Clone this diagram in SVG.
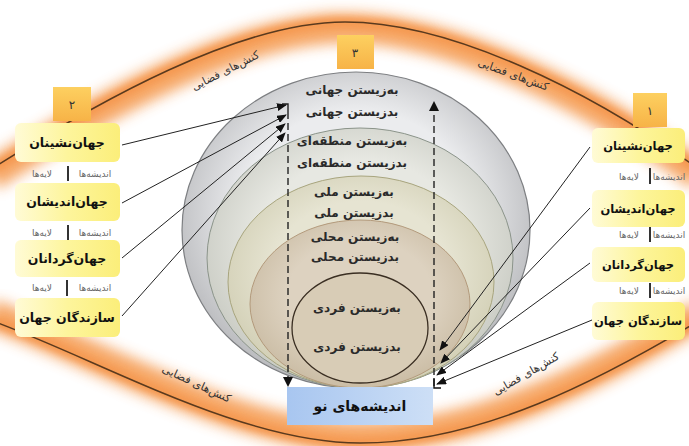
<svg xmlns="http://www.w3.org/2000/svg" width="689" height="446" viewBox="0 0 689 446">
<defs>
<style>
.arcline{fill:none;stroke:#5a3a1e;stroke-width:1.5}
.glow{fill:none;stroke:#f59d55;stroke-width:30;opacity:0.9}
.glow2{fill:none;stroke:#f48c3c;stroke-width:10;opacity:0.6}
.box{fill:url(#yel);}
.bl{font-family:"DejaVu Sans",sans-serif;font-weight:bold;font-size:12.5px;fill:#111;text-anchor:middle}
.br{font-family:"DejaVu Sans",sans-serif;font-weight:bold;font-size:11.5px;fill:#111;text-anchor:middle}
.cl{font-family:"DejaVu Sans",sans-serif;font-weight:bold;font-size:12px;fill:#2a2a2a;text-anchor:middle}
.sub{font-family:"DejaVu Sans",sans-serif;font-size:9px;fill:#666;text-anchor:middle}
.kf{font-family:"DejaVu Sans",sans-serif;font-size:11px;fill:#333;text-anchor:middle}
.num{font-family:"DejaVu Sans",sans-serif;font-size:12px;fill:#333;text-anchor:middle}
.bar{stroke:#333;stroke-width:2}
.conn{fill:none;stroke:#222;stroke-width:1;marker-end:url(#ah)}
.dash{fill:none;stroke:#222;stroke-width:1.4;stroke-dasharray:7 4}
</style>
<filter id="blur" x="-20%" y="-20%" width="140%" height="140%"><feGaussianBlur stdDeviation="7"/></filter>
<filter id="blur2" x="-20%" y="-20%" width="140%" height="140%"><feGaussianBlur stdDeviation="3"/></filter>
<marker id="ah" viewBox="0 0 10 8" refX="9" refY="4" markerWidth="10" markerHeight="8" markerUnits="userSpaceOnUse" orient="auto"><path d="M0,0 L10,4 L0,8 Z" fill="#111"/></marker>
<linearGradient id="yel" x1="0" y1="0" x2="1" y2="0"><stop offset="0" stop-color="#fffbd6"/><stop offset="0.5" stop-color="#fdf59c"/><stop offset="1" stop-color="#fbee7a"/></linearGradient>
<linearGradient id="org" x1="0" y1="0" x2="0" y2="1"><stop offset="0" stop-color="#fdd060"/><stop offset="1" stop-color="#f7b347"/></linearGradient>
<linearGradient id="blue" x1="0" y1="0" x2="1" y2="0"><stop offset="0" stop-color="#a8c6f0"/><stop offset="1" stop-color="#cddff6"/></linearGradient>
<radialGradient id="g1" cx="0.5" cy="0.45" r="0.55"><stop offset="0.6" stop-color="#ebecee"/><stop offset="1" stop-color="#b9babd"/></radialGradient>
<radialGradient id="g2" cx="0.5" cy="0.45" r="0.55"><stop offset="0.6" stop-color="#e7e8e2"/><stop offset="1" stop-color="#c9cbc3"/></radialGradient>
<radialGradient id="g3" cx="0.5" cy="0.45" r="0.55"><stop offset="0.6" stop-color="#e6e4d2"/><stop offset="1" stop-color="#d2cfb5"/></radialGradient>
<radialGradient id="g4" cx="0.5" cy="0.45" r="0.55"><stop offset="0.6" stop-color="#ddd2c0"/><stop offset="1" stop-color="#cbbda5"/></radialGradient>
</defs>
<rect width="689" height="446" fill="#fff"/>
<g id="background">
<path class="glow" filter="url(#blur)" d="M-10,176 C100,106 240,28 345,28 C450,28 590,96 700,176"/>
<path class="glow" filter="url(#blur)" d="M-10,314 C100,354 240,437 360,437 C480,437 600,374 700,314"/>
<path class="glow2" filter="url(#blur2)" d="M-10,170 C100,100 240,22 345,22 C450,22 590,90 700,170"/>
<path class="glow2" filter="url(#blur2)" d="M-10,320 C100,360 240,443 360,443 C480,443 600,380 700,320"/>
<path class="arcline" d="M-10,170 C100,100 240,22 345,22 C450,22 590,90 700,170"/>
<path class="arcline" d="M-10,320 C100,360 240,443 360,443 C480,443 600,380 700,320"/>
<text class="kf" transform="translate(227,74) rotate(-27)">کنش‌های فضایی</text>
<text class="kf" transform="translate(512,78) rotate(20)">کنش‌های فضایی</text>
<text class="kf" transform="translate(195,387) rotate(25)">کنش‌های فضایی</text>
<text class="kf" transform="translate(528,377) rotate(-30)">کنش‌های فضایی</text>
</g>
<g id="circles">
<ellipse cx="356" cy="230" rx="174" ry="158" fill="url(#g1)" stroke="#7d7f82" stroke-width="1.2"/>
<ellipse cx="360" cy="258" rx="153" ry="130" fill="url(#g2)" stroke="#8b948a" stroke-width="1"/>
<ellipse cx="361" cy="282" rx="133" ry="106" fill="url(#g3)" stroke="#a8a57e" stroke-width="1"/>
<ellipse cx="360" cy="304" rx="110" ry="84" fill="url(#g4)" stroke="#b39a7c" stroke-width="1"/>
<ellipse cx="360" cy="328" rx="68" ry="55" fill="#d8ccb6" stroke="#3a2e22" stroke-width="1.3"/>
<text class="cl" x="352" y="94">به‌زیستن جهانی</text>
<text class="cl" x="352" y="116">بدزیستن جهانی</text>
<text class="cl" x="352" y="145">به‌زیستن منطقه‌ای</text>
<text class="cl" x="352" y="167">بدزیستن منطقه‌ای</text>
<text class="cl" x="354" y="196">به‌زیستن ملی</text>
<text class="cl" x="354" y="217">بدزیستن ملی</text>
<text class="cl" x="355" y="241">به‌زیستن محلی</text>
<text class="cl" x="355" y="261">بدزیستن محلی</text>
<text class="cl" x="357" y="312">به‌زیستن فردی</text>
<text class="cl" x="357" y="351">بدزیستن فردی</text>
</g>
<g id="n3"><rect x="337" y="35" width="37" height="34" fill="url(#org)"/><text class="num" x="355" y="57">۳</text></g>
<g id="n2"><rect x="53" y="87" width="38" height="34" fill="url(#org)"/><text class="num" x="72" y="109">۲</text></g>
<g id="n1"><rect x="633" y="93" width="34" height="34" fill="url(#org)"/><text class="num" x="650" y="115">۱</text></g>
<g id="left">
<g id="l1"><rect class="box" x="15" y="123" width="105" height="39" rx="6"/><text class="bl" x="67" y="147">جهان‌نشینان</text></g>
<g id="l2"><rect class="box" x="15" y="183" width="105" height="38" rx="6"/><text class="bl" x="67" y="206">جهان‌اندیشان</text></g>
<g id="l3"><rect class="box" x="15" y="240" width="105" height="37" rx="6"/><text class="bl" x="67" y="263">جهان‌گردانان</text></g>
<g id="l4"><rect class="box" x="15" y="298" width="105" height="39" rx="6"/><text class="bl" x="67" y="322">سازندگان جهان</text></g>
<text class="sub" x="42" y="177">لایه‌ها</text><line class="bar" x1="68" y1="166" x2="68" y2="181"/><text class="sub" x="95" y="177">اندیشه‌ها</text>
<text class="sub" x="42" y="236">لایه‌ها</text><line class="bar" x1="68" y1="225" x2="68" y2="240"/><text class="sub" x="95" y="236">اندیشه‌ها</text>
<text class="sub" x="42" y="291">لایه‌ها</text><line class="bar" x1="67" y1="280" x2="67" y2="296"/><text class="sub" x="95" y="291">اندیشه‌ها</text>
</g>
<g id="right">
<g id="r1"><rect class="box" x="592" y="128" width="93" height="35" rx="6"/><text class="br" x="638" y="150">جهان‌نشینان</text></g>
<g id="r2"><rect class="box" x="592" y="190" width="93" height="37" rx="6"/><text class="br" x="638" y="213">جهان‌اندیشان</text></g>
<g id="r3"><rect class="box" x="592" y="247" width="93" height="35" rx="6"/><text class="br" x="638" y="269">جهان‌گردانان</text></g>
<g id="r4"><rect class="box" x="592" y="302" width="93" height="38" rx="6"/><text class="br" x="638" y="325">سازندگان جهان</text></g>
<text class="sub" x="629" y="180">لایه‌ها</text><line class="bar" x1="650" y1="168" x2="650" y2="184"/><text class="sub" x="669" y="180">اندیشه‌ها</text>
<text class="sub" x="629" y="238">لایه‌ها</text><line class="bar" x1="650" y1="227" x2="650" y2="242"/><text class="sub" x="669" y="238">اندیشه‌ها</text>
<text class="sub" x="629" y="294">لایه‌ها</text><line class="bar" x1="650" y1="283" x2="650" y2="298"/><text class="sub" x="669" y="294">اندیشه‌ها</text>
</g>
<g id="new"><rect x="287" y="387" width="146" height="38" fill="url(#blue)"/><text class="bl" x="360" y="411" style="font-size:14px">اندیشه‌های نو</text></g>
<g id="connectors">
<path d="M282,104 H288 V112" fill="none" stroke="#222" stroke-width="1.4"/>
<path class="dash" d="M288,112 V378"/>
<path d="M283,377 L293,377 L288,387 Z" fill="#111"/>
<path class="dash" d="M434,386 V110"/>
<path d="M429,111 L439,111 L434,101 Z" fill="#111"/>
<path d="M434,378 V388 H441" fill="none" stroke="#111" stroke-width="1.4"/>
<path class="conn" d="M122,145 L286,105"/>
<path class="conn" d="M122,203 L286,115"/>
<path class="conn" d="M122,258 L285,124"/>
<path class="conn" d="M122,316 L285,133"/>
<path class="conn" d="M590,147 L440,350"/>
<path class="conn" d="M590,208 L441,363"/>
<path class="conn" d="M590,263 L437,375"/>
<path class="conn" d="M592,320 L437,384"/>
</g>
</svg>
